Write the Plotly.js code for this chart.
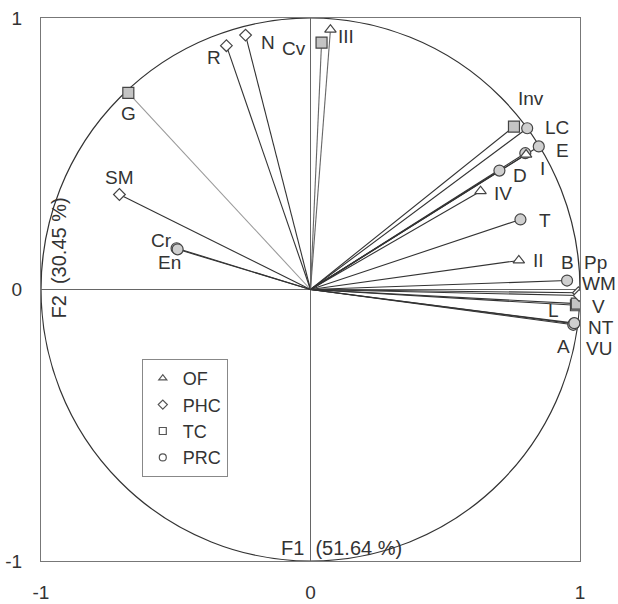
<!DOCTYPE html>
<html>
<head>
<meta charset="utf-8">
<script src="https://cdn.plot.ly/plotly-3.0.1.min.js"></script>
<style>html,body{margin:0;padding:0;background:#fff;}</style>
</head>
<body>
<div id="chart" style="width:618px;height:604px;"></div>
<script>
const ofNames = ['III', 'IV', 'I', 'II'];
const ofX = [0.074, 0.631, 0.800, 0.773];
const ofY = [0.957, 0.362, 0.497, 0.107];

const phcNames = ['R', 'N', 'SM', 'Pp', 'WM'];
const phcX = [-0.312, -0.241, -0.709, 0.994, 0.997];
const phcY = [0.898, 0.937, 0.350, -0.012, -0.022];

const tcNames = ['G', 'Cv', 'Inv', 'L', 'V'];
const tcX = [-0.676, 0.041, 0.755, 0.985, 0.988];
const tcY = [0.724, 0.909, 0.600, -0.058, -0.052];

const prcNames = ['Cr', 'En', 'LC', 'E', 'D', 'T', 'B', 'NT', 'A', 'VU', ''];
const prcX = [-0.497, -0.493, 0.804, 0.847, 0.701, 0.779, 0.952, 0.977, 0.975, 0.979, 0.797];
const prcY = [0.152, 0.148, 0.594, 0.527, 0.438, 0.258, 0.033, -0.126, -0.130, -0.124, 0.502];

const groupNames = ['OF', 'PHC', 'TC', 'PRC'];
const tickVals = [-1, 0, 1];
const tickText = ['-1', '0', '1'];
const xTitle = 'F1 (51.64 %)';
const yTitle = 'F2 (30.45 %)';

// ---- Label offsets (pixels) ----
const labelOffset = {
  'III': [16, -7], 'IV': [22, -2], 'I': [16, -14], 'II': [20, 0],
  'R': [-12, -12], 'N': [22, -7], 'SM': [0, 17], 'Pp': [17, 30], 'WM': [20, 12],
  'G': [0, -21], 'Cv': [-28, -6], 'Inv': [17, 28], 'L': [-22, -5], 'V': [22, -3],
  'Cr': [-15, 8], 'En': [-8, -13], 'LC': [30, 1], 'E': [24, -4], 'D': [21, -5],
  'T': [25, -1], 'B': [0, 18], 'NT': [27, -4], 'A': [-10, -22], 'VU': [25, -25]
};

const FONT = 'Liberation Sans, Arial, sans-serif';
const TXT = '#333';
const traces = [];

// rays from origin
function addRays(xs, ys, names) {
  for (let i = 0; i < xs.length; i++) {
    traces.push({
      x: [0, xs[i]], y: [0, ys[i]], mode: 'lines', type: 'scatter',
      line: {color: names[i] === 'G' ? '#9a9a9a' : (names[i] === 'Cv' || names[i] === 'III' ? '#666' : '#333'), width: 1.1},
      showlegend: false, hoverinfo: 'skip'
    });
  }
}
addRays(tcX, tcY, tcNames);
addRays(prcX, prcY, prcNames);
addRays(phcX, phcY, phcNames);
addRays(ofX, ofY, ofNames);

function markerTrace(xs, ys, names, symbol, size, fill) {
  return {
    x: xs, y: ys, text: names, mode: 'markers', type: 'scatter', showlegend: false,
    marker: {symbol: symbol, size: size, color: fill, line: {color: '#444', width: 1.2}},
    hoverinfo: 'text'
  };
}
traces.push(markerTrace(tcX, tcY, tcNames, 'square', 11, '#c4c4c4'));
traces.push(markerTrace(prcX, prcY, prcNames, 'circle', 11, '#cfcfcf'));
traces.push(markerTrace(phcX, phcY, phcNames, 'diamond', 9, '#ffffff'));
traces.push(markerTrace(ofX, ofY, ofNames, 'triangle-up', 10, '#ffffff'));

// legend entries
const legSymbols = ['triangle-up-open', 'diamond-open', 'square-open', 'circle-open'];
groupNames.forEach((g, i) => {
  traces.push({
    x: [null], y: [null], mode: 'markers', type: 'scatter', name: g, legendgroup: g,
    marker: {symbol: legSymbols[i], size: 7, color: '#555', line: {width: 1.2}}
  });
});

// labels
const annotations = [];
function addLabels(xs, ys, names) {
  for (let i = 0; i < xs.length; i++) {
    if (!names[i]) continue;
    const o = labelOffset[names[i]] || [0, 0];
    annotations.push({
      x: xs[i], y: ys[i], xref: 'x', yref: 'y', text: names[i], showarrow: false,
      xshift: o[0], yshift: o[1], font: {family: FONT, size: 19, color: TXT}
    });
  }
}
addLabels(ofX, ofY, ofNames);
addLabels(phcX, phcY, phcNames);
addLabels(tcX, tcY, tcNames);
addLabels(prcX, prcY, prcNames);

// axis titles placed on the axes, as in the reference
annotations.push({
  x: 0, y: -1, xref: 'x', yref: 'y', text: xTitle.replace(' (', '&nbsp; ('), showarrow: false,
  xshift: 31, yshift: 13, font: {family: FONT, size: 20, color: TXT}
});
annotations.push({
  x: -1, y: 0, xref: 'x', yref: 'y', text: yTitle.replace(' (', '&nbsp; ('), showarrow: false,
  textangle: -90, xshift: 17, yshift: 31, font: {family: FONT, size: 20, color: TXT}
});

const axisCommon = {
  range: [-1, 1], tickvals: tickVals, ticktext: tickText, showgrid: false,
  zeroline: true, zerolinecolor: '#666', zerolinewidth: 1,
  showline: true, mirror: true, linecolor: '#777', linewidth: 1,
  ticks: '', tickfont: {family: FONT, size: 19, color: TXT}, fixedrange: true
};

const layout = {
  width: 618, height: 604,
  margin: {l: 41, r: 38, t: 18, b: 43},
  paper_bgcolor: '#fff', plot_bgcolor: '#fff',
  xaxis: Object.assign({}, axisCommon, {ticklabelstandoff: 14}),
  yaxis: Object.assign({}, axisCommon, {ticklabelstandoff: 14}),
  showlegend: true,
  legend: {
    x: 0.187, y: 0.372, xanchor: 'left', yanchor: 'top',
    bgcolor: '#fff', bordercolor: '#888', borderwidth: 1,
    font: {family: FONT, size: 18, color: TXT}, tracegroupgap: 0,
    itemwidth: 30
  },
  shapes: [{
    type: 'circle', xref: 'x', yref: 'y', x0: -1, y0: -1, x1: 1, y1: 1,
    line: {color: '#333', width: 1.2}, layer: 'below'
  }],
  annotations: annotations
};

Plotly.newPlot('chart', traces, layout, {displayModeBar: false, staticPlot: true});
</script>
</body>
</html>
